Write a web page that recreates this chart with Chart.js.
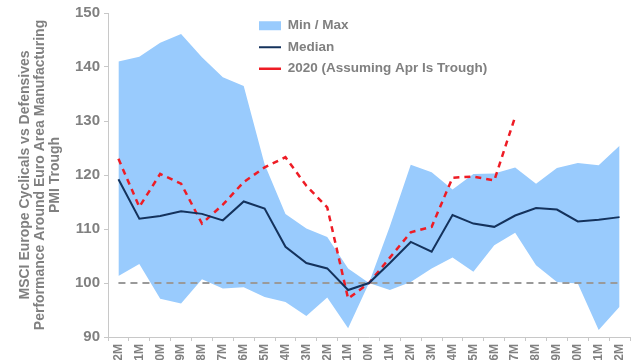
<!DOCTYPE html>
<html>
<head>
<meta charset="utf-8">
<script src="https://cdn.jsdelivr.net/npm/chart.js@4"></script>
<style>
  html, body { margin: 0; padding: 0; background: #fff; overflow: hidden; }
  #wrap { width: 640px; height: 400px; }
</style>
</head>
<body>
<div id="wrap"><canvas id="myChart" width="640" height="400"></canvas></div>
<script>
const months = ['-12M','-11M','-10M','-9M','-8M','-7M','-6M','-5M','-4M','-3M','-2M','-1M','0M',
  '1M','2M','3M','4M','5M','6M','7M','8M','9M','10M','11M','12M'];
const maxVals = [141.0, 141.9, 144.5, 146.1, 141.8, 138.1, 136.5, 122.0, 112.8, 110.1, 108.5, 102.7, 100,
  110.5, 121.9, 120.5, 117.3, 120.2, 120.3, 121.4, 118.4, 121.3, 122.2, 121.8, 125.4];
const minVals = [101.3, 103.5, 97.1, 96.2, 100.7, 99.0, 99.2, 97.4, 96.5, 93.9, 97.3, 91.6, 100,
  98.7, 100.2, 102.7, 104.7, 102.1, 107.0, 109.3, 103.3, 100.2, 99.9, 91.3, 95.6];
const median = [119.2, 111.9, 112.4, 113.3, 112.8, 111.6, 115.1, 113.8, 106.7, 103.7, 102.7, 98.7, 100,
  103.7, 107.6, 105.8, 112.6, 111.0, 110.4, 112.5, 113.9, 113.6, 111.4, 111.7, 112.2];
const y2020 = [123.0, 114.1, 120.2, 118.4, 111.0, 114.5, 118.7, 121.4, 123.3, 118.0, 114.0, 97.1, 100,
  104.7, 109.4, 110.4, 119.5, 119.7, 119.0, 130.8];
const base = [100, 100, 100, 100, 100, 100, 100, 100, 100, 100, 100, 100, 100,
  100, 100, 100, 100, 100, 100, 100, 100, 100, 100, 100, 100];

const grey = '#808080';
const font = 'Liberation Sans, Arial, sans-serif';

// put the legend inside the plot, like the original
const moveLegend = {
  id: 'moveLegend',
  afterLayout(chart) {
    const lg = chart.legend;
    const pad = lg.options.labels.padding;
    lg.left = 259 - pad;
    lg.top = 19 - pad;
    lg.bottom = lg.top + 200;
  }
};

const ctx = document.getElementById('myChart');
new Chart(ctx, {
  type: 'line',
  data: {
    labels: months,
    datasets: [
      {
        label: 'Min / Max',
        data: maxVals,
        backgroundColor: '#99cbfd',
        borderColor: '#99cbfd',
        borderWidth: 0,
        fill: '+1',
        pointStyle: 'rect'
      },
      {
        label: '',
        data: minVals,
        backgroundColor: '#99cbfd',
        borderWidth: 0,
        fill: false
      },
      {
        label: 'Median',
        data: median,
        borderColor: '#14325c',
        backgroundColor: '#14325c',
        borderWidth: 2,
        fill: false,
        pointStyle: 'line'
      },
      {
        label: '2020 (Assuming Apr Is Trough)',
        data: y2020,
        borderColor: '#ee1c25',
        backgroundColor: '#ee1c25',
        borderWidth: 2.5,
        borderDash: [6, 5],
        fill: false,
        pointStyle: 'line'
      },
      {
        label: '',
        data: base,
        borderColor: '#9a9a9a',
        borderWidth: 2,
        borderDash: [7, 5],
        fill: false
      }
    ]
  },
  options: {
    responsive: false,
    animation: false,
    devicePixelRatio: 1,
    elements: {
      point: { radius: 0 },
      line: { tension: 0 }
    },
    layout: {
      padding: { top: 12, right: 10, bottom: 0, left: 0 }
    },
    plugins: {
      filler: { drawTime: 'beforeDatasetsDraw' },
      tooltip: { enabled: false },
      legend: {
        position: 'chartArea',
        align: 'start',
        labels: {
          filter: (item) => item.text !== '',
          usePointStyle: true,
          pointStyleWidth: 22,
          boxWidth: 22,
          boxHeight: 9,
          padding: 8,
          color: grey,
          font: { family: font, size: 13.5, weight: 'bold' }
        }
      }
    },
    scales: {
      x: {
        offset: true,
        afterFit: (scale) => { scale.height = 63; },
        grid: { offset: true, drawOnChartArea: false, tickLength: 4, color: '#c8c8c8' },
        border: { color: '#c8c8c8' },
        ticks: {
          autoSkip: false,
          minRotation: 90,
          maxRotation: 90,
          padding: 3,
          color: grey,
          font: { family: font, size: 12, weight: 'bold' }
        }
      },
      y: {
        min: 90,
        max: 150,
        afterFit: (scale) => { scale.width = 108; },
        grid: { drawOnChartArea: false, tickLength: 4, color: '#c8c8c8' },
        border: { color: '#c8c8c8' },
        ticks: {
          stepSize: 10,
          padding: 4,
          color: grey,
          font: { family: font, size: 15, weight: 'bold' }
        },
        title: {
          display: true,
          text: ['MSCI Europe Cyclicals vs Defensives', 'Performance Around Euro Area Manufacturing', 'PMI Trough'],
          color: grey,
          padding: { top: 17, bottom: 0 },
          font: { family: font, size: 14, weight: 'bold', lineHeight: 1.1 }
        }
      }
    }
  },
  plugins: [moveLegend]
});
</script>
</body>
</html>
